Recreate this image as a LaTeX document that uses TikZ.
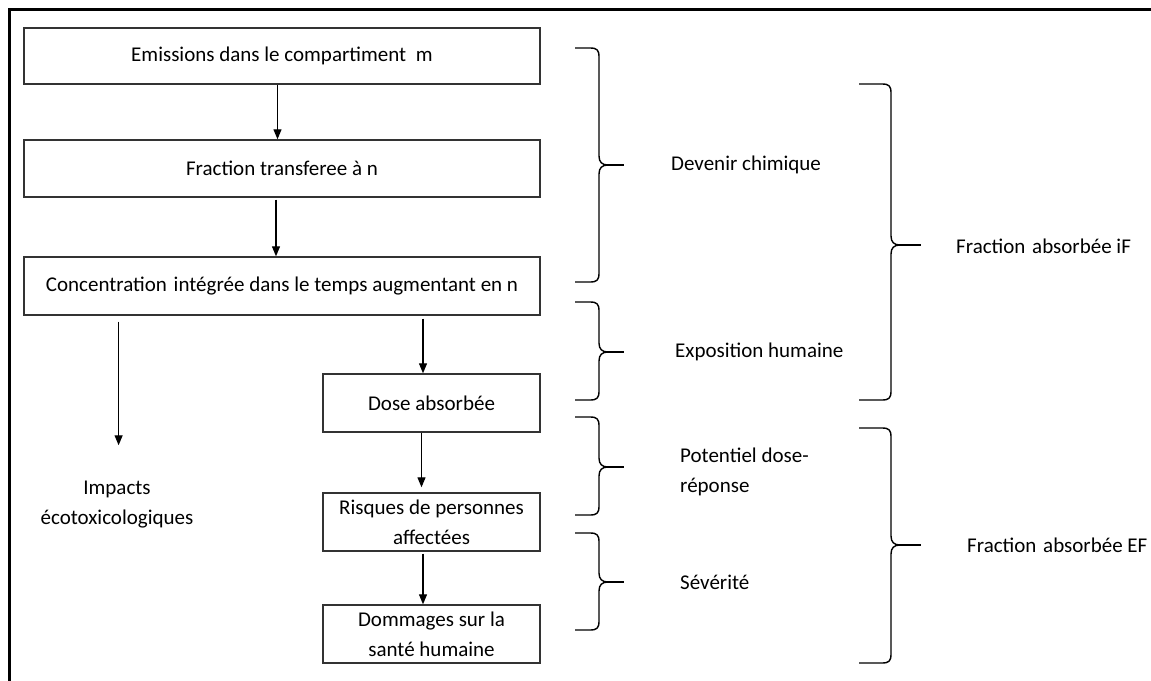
\documentclass[tikz,border=0pt]{standalone}
\usepackage{fontspec}
\setmainfont{Carlito}
\usetikzlibrary{arrows.meta}
\newcommand\cbrace[6]{%
  \draw[brc] (#1,#4) -- (#2-9,#4) .. controls (#2-2,#4) and (#2,#4+2) .. (#2,#4+9)
    -- (#2,#5-9) .. controls (#2,#5-3) and (#2+3,#5) .. (#2+9,#5);
  \draw[brc] (#1,#6) -- (#2-9,#6) .. controls (#2-2,#6) and (#2,#6-2) .. (#2,#6-9)
    -- (#2,#5+9) .. controls (#2,#5+3) and (#2+3,#5) .. (#2+9,#5);
  \draw[line width=2pt] (#2+6,#5) -- (#3,#5);}
\begin{document}
\begin{tikzpicture}[x=1pt,y=-1pt,
  txt/.style={font=\fontsize{21}{30}\selectfont, inner sep=0pt},
  box/.style={txt, draw=black!80, line width=1.4pt, align=center},
  wide/.style={box, minimum width=516pt},
  narrow/.style={box, minimum width=217pt, minimum height=58pt},
  lbl/.style={txt, anchor=west, align=left},
  arr/.style={line width=1.2pt, -{Triangle[length=10pt,width=8pt]}},
  brc/.style={line width=1.4pt}]
\useasboundingbox (0,0) rectangle (1151,680);
\clip (0,0) rectangle (1151,680);
\fill[white] (0,0) rectangle (1151,680);
\draw[line width=3pt] (1160,9.5) -- (9.5,9.5) -- (9.5,690);

% boxes
\node[wide, minimum height=56pt] (b1) at (282,56) {Emissions dans le compartiment\hspace{5pt} m};
\node[wide, minimum height=57pt] (b2) at (282,168.5) {Fraction transferee à n};
\node[wide, minimum height=58pt] (b3) at (282,286) {Concentration\hspace{2pt} intégrée dans le temps augmentant en n};
\node[narrow] (dose) at (431.5,403) {Dose absorbée};
\node[narrow] (risk) at (431.5,522) {Risques de personnes\\affectées};
\node[narrow] (dom) at (431.5,634) {Dommages sur la\\santé humaine};
\node[txt, align=center] (imp) at (117,505) {Impacts\\écotoxicologiques};

% arrows
\draw[arr] ([xshift=-4.5pt]b1.south) -- ([xshift=-4.5pt]b2.north);
\draw[arr, shorten <=2pt] ([xshift=-6pt]b2.south) -- ([xshift=-6pt]b3.north);
\draw[arr, shorten <=6pt, shorten >=36pt] (b3.south -| 118.6,0) -- (imp.north -| 118.6,0);
\draw[arr, shorten <=3pt] ([xshift=-8.5pt]b3.south -| dose.north) -- ([xshift=-8.5pt]dose.north);
\draw[arr] ([xshift=-10pt]dose.south) -- ([xshift=-10pt,yshift=5pt]risk.north);
\draw[arr, shorten <=2pt] ([xshift=-8.5pt]risk.south) -- ([xshift=-8.5pt]dom.north);

% braces
\cbrace{575}{599}{624}{48}{165}{282}
\cbrace{575}{599}{624}{302}{352}{400}
\cbrace{575}{599}{624}{417}{467}{515}
\cbrace{575}{599}{624}{533}{582}{630}
\cbrace{859}{891}{921}{84}{245}{400}
\cbrace{859}{891}{921}{428}{545}{663}

% labels
\node[lbl] (l1) at (671,165) {Devenir chimique};
\node[lbl] (l2) at (675,352) {Exposition humaine};
\node[lbl] (l3) at (680,472) {Potentiel dose-\\réponse};
\node[lbl] (l4) at (680,582) {Sévérité};
\node[lbl] (l5) at (956,246) {Fraction\hspace{2pt} absorbée iF};
\node[lbl] (l6) at (967,545) {Fraction\hspace{2pt} absorbée EF};
\end{tikzpicture}
\end{document}
